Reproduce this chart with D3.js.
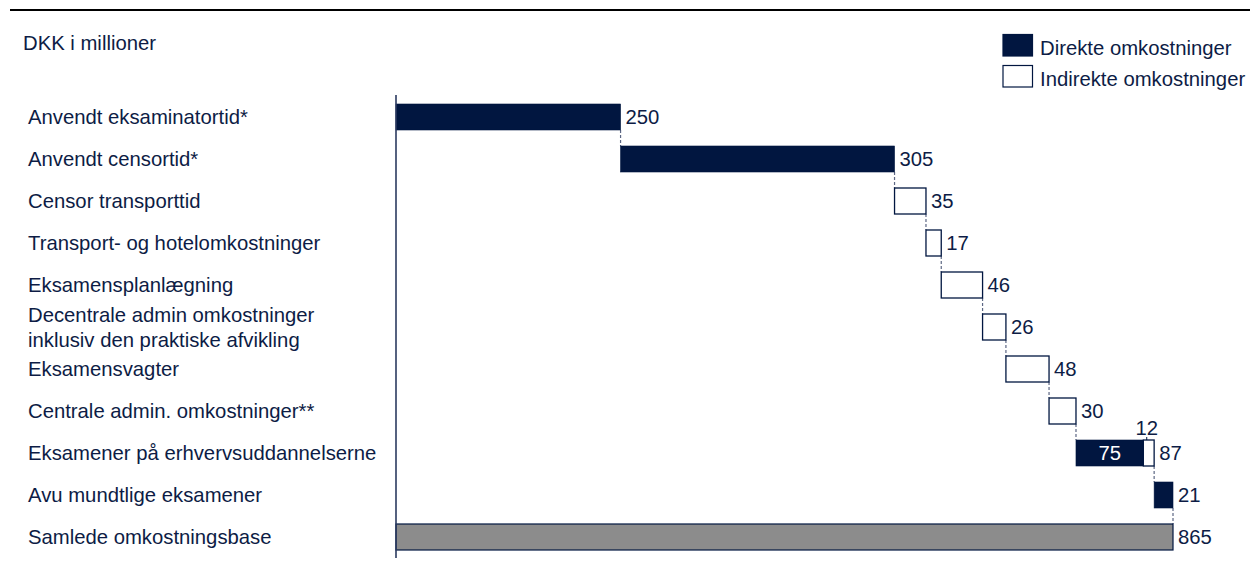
<!DOCTYPE html>
<html>
<head>
<meta charset="utf-8">
<script src="https://cdn.jsdelivr.net/npm/d3@7"></script>
<style>
  html, body { margin: 0; padding: 0; background: #ffffff; }
  svg { display: block; }
  text { font-family: "Liberation Sans", Arial, sans-serif; font-size: 20.3px; fill: #0d1c45; }
</style>
</head>
<body>
<svg id="chart" width="1250" height="583"></svg>
<script>
// ---- data ----
const categories = [
  "Anvendt eksaminatortid*",
  "Anvendt censortid*",
  "Censor transporttid",
  "Transport- og hotelomkostninger",
  "Eksamensplanlægning",
  "Decentrale admin omkostninger\ninklusiv den praktiske afvikling",
  "Eksamensvagter",
  "Centrale admin. omkostninger**",
  "Eksamener på erhvervsuddannelserne",
  "Avu mundtlige eksamener",
  "Samlede omkostningsbase"
];
const directValues   = [250, 305, 0, 0, 0, 0, 0, 0, 75, 21, 0];
const indirectValues = [0, 0, 35, 17, 46, 26, 48, 30, 12, 0, 0];
const totalValue = 865;
const legendLabels = ["Direkte omkostninger", "Indirekte omkostninger"];
const unitLabel = "DKK i millioner";

// ---- styles ----
const NAVY = "#011640";
const GREY = "#8c8c8c";
const DASH = "#5d6784";

const svg = d3.select("#chart");

const x = d3.scaleLinear().domain([0, totalValue]).range([396, 1173]);
const y = d3.scaleBand().domain(categories).range([96, 558])
  .paddingInner(0.381).paddingOuter(0.1905);

// top rule
svg.append("line").attr("x1", 10).attr("x2", 1250).attr("y1", 10).attr("y2", 10)
  .attr("stroke", "#000").attr("stroke-width", 2.2);

// unit label
svg.append("text").attr("x", 23).attr("y", 50).text(unitLabel);

// legend
const legend = svg.append("g");
[{fill: NAVY}, {fill: "#fff"}].forEach((d, i) => {
  const yy = 34.5 + i * 31;
  legend.append("rect").attr("x", 1003).attr("y", yy).attr("width", 29.5).attr("height", 21.5)
    .attr("fill", d.fill).attr("stroke", NAVY).attr("stroke-width", 1.2);
  legend.append("text").attr("x", 1040).attr("y", yy + 20).text(legendLabels[i]);
});

// category labels
categories.forEach(c => {
  const lines = c.split("\n");
  const cy = y(c) + y.bandwidth() / 2;
  const t = svg.append("text").attr("x", 28);
  lines.forEach((ln, j) => {
    t.append("tspan").attr("x", 28)
      .attr("y", cy + 7 + (j - (lines.length - 1) / 2) * 25)
      .text(ln);
  });
});

// waterfall computation
let cum = 0;
const rows = categories.map((c, i) => {
  const isTotal = i === categories.length - 1;
  const start = isTotal ? 0 : cum;
  const d = directValues[i], ind = indirectValues[i];
  const end = isTotal ? totalValue : start + d + ind;
  if (!isTotal) cum = end;
  return { c, i, start, d, ind, end, isTotal };
});

// connectors
rows.forEach((r, i) => {
  if (i === rows.length - 1) return;
  const next = rows[i + 1];
  svg.append("line")
    .attr("x1", x(r.end)).attr("x2", x(r.end))
    .attr("y1", y(r.c) + y.bandwidth()).attr("y2", y(next.c))
    .attr("stroke", DASH).attr("stroke-width", 1.2).attr("stroke-dasharray", "3,2");
});

// bars
rows.forEach(r => {
  const top = y(r.c), h = y.bandwidth();
  if (r.isTotal) {
    svg.append("rect").attr("x", x(0)).attr("y", top)
      .attr("width", x(r.end) - x(0)).attr("height", h)
      .attr("fill", GREY).attr("stroke", NAVY).attr("stroke-width", 1.2);
    return;
  }
  if (r.d > 0) {
    svg.append("rect").attr("x", x(r.start)).attr("y", top)
      .attr("width", x(r.start + r.d) - x(r.start)).attr("height", h)
      .attr("fill", NAVY).attr("stroke", NAVY).attr("stroke-width", 0.6);
  }
  if (r.ind > 0) {
    svg.append("rect").attr("x", x(r.start + r.d)).attr("y", top)
      .attr("width", x(r.start + r.d + r.ind) - x(r.start + r.d)).attr("height", h)
      .attr("fill", "#fff").attr("stroke", NAVY).attr("stroke-width", 1.3);
  }
});

// axis line (vertical baseline)
svg.append("line").attr("x1", x(0)).attr("x2", x(0)).attr("y1", 95).attr("y2", 558)
  .attr("stroke", "#2b3a60").attr("stroke-width", 1.6);

// value labels
rows.forEach(r => {
  const cy = y(r.c) + y.bandwidth() / 2;
  const total = r.isTotal ? r.end : r.d + r.ind;
  svg.append("text").attr("x", x(r.end) + 5).attr("y", cy + 7).text(total);
  if (r.d > 0 && r.ind > 0) {
    svg.append("text").attr("x", (x(r.start) + x(r.start + r.d)) / 2).attr("y", cy + 7)
      .attr("text-anchor", "middle").style("fill", "#fff").text(r.d);
    const mx = (x(r.start + r.d) + x(r.end)) / 2 - 2;
    svg.append("text").attr("x", mx).attr("y", y(r.c) - 5)
      .attr("text-anchor", "middle").text(r.ind);
    svg.append("line").attr("x1", mx).attr("x2", mx)
      .attr("y1", y(r.c) - 3).attr("y2", y(r.c))
      .attr("stroke", NAVY).attr("stroke-width", 1);
  }
});
</script>
</body>
</html>
